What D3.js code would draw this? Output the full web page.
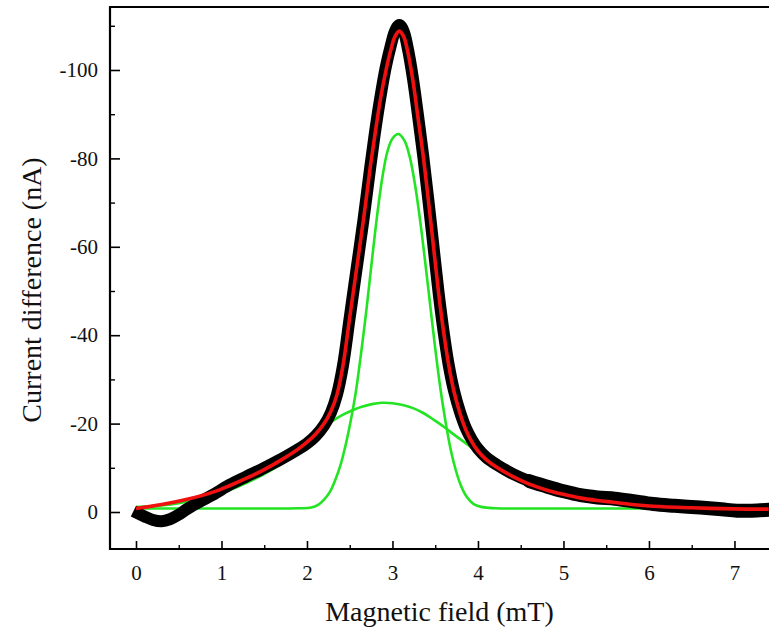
<!DOCTYPE html>
<html>
<head>
<meta charset="utf-8">
<script src="https://cdn.jsdelivr.net/npm/d3@7"></script>
<style>
  html, body { margin: 0; padding: 0; background: #fff; }
  svg { display: block; }
</style>
</head>
<body>
<svg id="chart" width="769" height="630"></svg>
<script>
// ---- Data ----
// Measured signal (black band)
const dataX = [-0.03, 0.1, 0.2, 0.3, 0.4, 0.5, 0.6, 0.75, 0.9, 1.1, 1.3, 1.5, 1.7, 1.88, 2.0, 2.1, 2.2, 2.28, 2.35, 2.42, 2.50, 2.58, 2.66, 2.74, 2.80, 2.86, 2.92, 2.98, 3.03, 3.08, 3.13, 3.18, 3.24, 3.30, 3.36, 3.42, 3.48, 3.54, 3.60, 3.66, 3.72, 3.79, 3.86, 3.93, 4.0, 4.1, 4.22, 4.41, 4.6, 4.8, 5.0, 5.2, 5.4, 5.6, 5.8, 6.05, 6.3, 6.6, 6.85, 7.03, 7.2, 7.40];
const dataY = [-0.2, 1.0, 1.8, 2.1, 1.6, 0.6, -0.7, -2.4, -3.9, -6.2, -8.1, -10.0, -12.0, -14.0, -15.5, -17.2, -19.6, -22.5, -26.5, -33, -44, -55, -66, -78, -86.5, -94, -100.5, -105.5, -108.8, -110.2, -108.8, -104.8, -98, -89.5, -80.5, -70.5, -60, -49.5, -40.5, -33, -27.4, -22.6, -18.9, -16.3, -14.3, -12.3, -10.7, -8.6, -7.0, -5.8, -4.7, -3.8, -3.3, -3.0, -2.5, -1.8, -1.4, -1.0, -0.6, -0.3, -0.3, -0.5];

// Total fit (red)
const fitX = [0, 0.3, 0.6, 0.9, 1.1, 1.3, 1.5, 1.7, 1.88, 2.0, 2.1, 2.2, 2.28, 2.35, 2.42, 2.50, 2.58, 2.66, 2.74, 2.80, 2.86, 2.92, 2.98, 3.03, 3.08, 3.13, 3.18, 3.24, 3.30, 3.36, 3.42, 3.48, 3.54, 3.60, 3.66, 3.72, 3.79, 3.86, 3.93, 4.0, 4.1, 4.22, 4.41, 4.6, 4.8, 5.0, 5.19, 5.4, 5.58, 5.8, 6.05, 6.5, 7.0, 7.40];
const fitY = [-0.8, -1.7, -2.9, -4.5, -6.0, -7.7, -9.6, -11.8, -14.0, -15.8, -17.6, -20.0, -22.8, -26.5, -33, -44, -55, -66, -78, -86, -93.5, -99.5, -104.5, -107.6, -108.8, -107.6, -104, -97.5, -89, -80.5, -70.5, -60, -49.5, -40.5, -33, -27.2, -22.3, -18.5, -15.8, -13.8, -11.8, -10.1, -8, -6.3, -5.0, -4.0, -3.2, -2.6, -2.2, -1.7, -1.3, -0.95, -0.7, -0.65];

// Narrow component (green)
const narrowX = [0, 1.0, 1.9, 2.05, 2.13, 2.2, 2.27, 2.33, 2.39, 2.45, 2.51, 2.57, 2.63, 2.70, 2.76, 2.82, 2.88, 2.94, 3.0, 3.07, 3.14, 3.20, 3.26, 3.32, 3.38, 3.44, 3.50, 3.56, 3.62, 3.68, 3.74, 3.80, 3.87, 3.95, 4.05, 4.2, 5.0, 7.40];
const narrowY = [-0.8, -0.8, -0.85, -1.0, -1.6, -2.8, -4.6, -7.2, -10.5, -15, -20.5, -27, -35.5, -46.5, -57, -67, -75.5, -81.5, -84.5, -85.5, -84, -80.5, -74.5, -66.5, -57, -47, -37, -28, -20.5, -14.2, -9.5, -6.0, -3.4, -1.8, -1.1, -0.85, -0.8, -0.8];

// Broad component (green)
const broadX = [0, 0.5, 1.0, 1.5, 1.8, 2.0, 2.11, 2.2, 2.3, 2.4, 2.52, 2.64, 2.76, 2.88, 3.0, 3.12, 3.24, 3.36, 3.48, 3.6, 3.72, 3.84, 3.96, 4.1, 4.25, 4.4, 4.6, 4.8, 5.0, 5.2, 5.6, 6.0, 6.5, 7.0, 7.40];
const broadY = [-1.1, -2.0, -4.3, -8.6, -12.2, -15.8, -17.8, -19.3, -20.6, -21.8, -22.9, -23.8, -24.4, -24.7, -24.6, -24.2, -23.5, -22.4, -20.9, -19.3, -17.5, -15.8, -14.1, -12.0, -9.9, -8.1, -6.4, -5.1, -4.1, -3.3, -2.2, -1.5, -1.0, -0.9, -0.85];

// Axis ticks
const xMajorTicks = [0, 1, 2, 3, 4, 5, 6, 7];
const xMinorTicks = [0.5, 1.5, 2.5, 3.5, 4.5, 5.5, 6.5];
const yMajorTicks = [0, -20, -40, -60, -80, -100];
const yMinorTicks = [-10, -30, -50, -70, -90, -110];

const xTitle = "Magnetic field (mT)";
const yTitle = "Current difference (nA)";

// ---- Layout ----
const FONT = '"Liberation Serif", "Times New Roman", serif';
const svg = d3.select("#chart");
const mLeft = 110, mRight = 769, mTop = 7, mBottom = 549;

const x = d3.scaleLinear().domain([-0.304, 7.404]).range([mLeft, mRight]);
const y = d3.scaleLinear().domain([8.37, -114.25]).range([mBottom, mTop]);

const pts = (xs, ys) => xs.map((v, i) => [v, ys[i]]);
const line = d3.line().x(d => x(d[0])).y(d => y(d[1])).curve(d3.curveCatmullRom.alpha(0.5));

const plot = svg.append("g");

// Green components
plot.append("path").datum(pts(broadX, broadY))
  .attr("d", line).attr("fill", "none").attr("stroke", "#22e422").attr("stroke-width", 2.6);
plot.append("path").datum(pts(narrowX, narrowY))
  .attr("d", line).attr("fill", "none").attr("stroke", "#22e422").attr("stroke-width", 2.6);

// Measured data (thick black band); the noisier tail is drawn a little wider
const dataPts = pts(dataX, dataY);
plot.append("path").datum(dataPts)
  .attr("d", line).attr("fill", "none").attr("stroke", "#000")
  .attr("stroke-width", 12).attr("stroke-linejoin", "round").attr("stroke-linecap", "butt");
plot.append("path").datum(dataPts.filter(d => d[0] >= 4.6))
  .attr("d", line).attr("fill", "none").attr("stroke", "#000")
  .attr("stroke-width", 14).attr("stroke-linejoin", "round").attr("stroke-linecap", "round");

// Fit (red)
plot.append("path").datum(pts(fitX, fitY))
  .attr("d", line).attr("fill", "none").attr("stroke", "#f01010").attr("stroke-width", 3.6)
  .attr("stroke-linejoin", "round");

// ---- Axes ----
const fontTick = 21;
const fmt = d => String(d);

// Left axis
const yAxis = d3.axisLeft(y).tickValues(yMajorTicks).tickSize(-10).tickSizeOuter(0).tickPadding(12)
  .tickFormat(fmt);
const gy = svg.append("g").attr("transform", `translate(${mLeft},0)`).call(yAxis);
gy.select(".domain").remove();
gy.selectAll(".tick line").attr("stroke", "#000").attr("stroke-width", 1.6);
gy.selectAll(".tick text").style("font-size", fontTick + "px").style("font-family", FONT).attr("fill", "#111");

const yMinor = d3.axisLeft(y).tickValues(yMinorTicks).tickSize(-5).tickSizeOuter(0).tickFormat("");
const gym = svg.append("g").attr("transform", `translate(${mLeft},0)`).call(yMinor);
gym.select(".domain").remove();
gym.selectAll(".tick line").attr("stroke", "#000").attr("stroke-width", 1.4);

// Bottom axis
const xAxis = d3.axisBottom(x).tickValues(xMajorTicks).tickSize(-8).tickSizeOuter(0).tickPadding(16)
  .tickFormat(fmt);
const gx = svg.append("g").attr("transform", `translate(0,${mBottom})`).call(xAxis);
gx.select(".domain").remove();
gx.selectAll(".tick line").attr("stroke", "#000").attr("stroke-width", 1.6);
gx.selectAll(".tick text").style("font-size", fontTick + "px").style("font-family", FONT).attr("fill", "#111");

const xMinor = d3.axisBottom(x).tickValues(xMinorTicks).tickSize(-4).tickSizeOuter(0).tickFormat("");
const gxm = svg.append("g").attr("transform", `translate(0,${mBottom})`).call(xMinor);
gxm.select(".domain").remove();
gxm.selectAll(".tick line").attr("stroke", "#000").attr("stroke-width", 1.4);

// Frame lines: left, bottom, top
svg.append("line").attr("x1", mLeft).attr("x2", mLeft).attr("y1", mTop - 1).attr("y2", mBottom + 1)
  .attr("stroke", "#000").attr("stroke-width", 2.2);
svg.append("line").attr("x1", mLeft).attr("x2", mRight).attr("y1", mBottom).attr("y2", mBottom)
  .attr("stroke", "#000").attr("stroke-width", 2.2);
svg.append("line").attr("x1", mLeft).attr("x2", mRight).attr("y1", mTop).attr("y2", mTop)
  .attr("stroke", "#000").attr("stroke-width", 2.2);

// Titles
svg.append("text").attr("x", (mLeft + mRight) / 2).attr("y", 621)
  .attr("text-anchor", "middle").style("font-size", "28px").style("font-family", FONT)
  .attr("fill", "#111").text(xTitle);
svg.append("text").attr("transform", `translate(41,290) rotate(-90)`)
  .attr("text-anchor", "middle").style("font-size", "28px").style("font-family", FONT)
  .attr("fill", "#111").text(yTitle);
</script>
</body>
</html>
